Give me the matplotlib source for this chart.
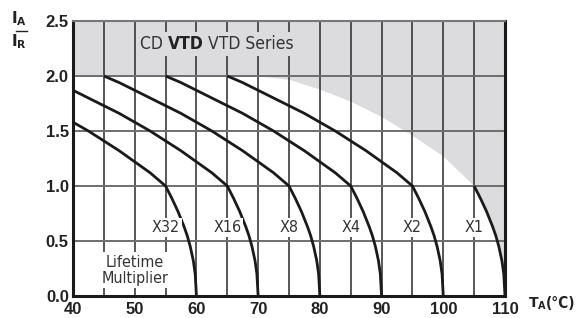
import matplotlib
matplotlib.use('Agg')
import matplotlib.pyplot as plt
from matplotlib import font_manager
from matplotlib.lines import Line2D
from matplotlib.offsetbox import TextArea, HPacker, AnnotationBbox

# end temperature of each derating curve and its lifetime multiplier
t_end = [60, 70, 80, 90, 100, 110]
mult_labels = ['X32', 'X16', 'X8', 'X4', 'X2', 'X1']

# common curve shape: offset from end temperature -> I_A/I_R
shape_dt = [-35, -32.5, -30, -27.5, -25, -22.5, -20, -17.5, -15, -12.5, -10, -7.5,
            -5, -4, -3, -2, -1.5, -1, -0.5, -0.2, 0]
shape_i = [2.0, 1.94, 1.87, 1.80, 1.73, 1.66, 1.58, 1.50, 1.41, 1.32, 1.22, 1.12,
           1.0, 0.89, 0.77, 0.63, 0.55, 0.45, 0.32, 0.2, 0.0]

# lower edge of the grey region
shade_t = [40, 70, 75, 80, 85, 90, 95, 100, 105, 106, 107, 108, 109, 109.5, 110]
shade_i = [2.0, 2.0, 1.97, 1.88, 1.77, 1.63, 1.46, 1.27, 1.0, 0.89, 0.77, 0.63, 0.45, 0.32, 0.0]

x_ticks = [40, 50, 60, 70, 80, 90, 100, 110]
y_ticks = [0.0, 0.5, 1.0, 1.5, 2.0, 2.5]

# look for a narrow font, otherwise fall back to Roboto
narrow_reg = None
narrow_bold = None
for f in font_manager.fontManager.ttflist:
    condensed = ('Narrow' in f.name or 'Condensed' in f.name
                 or str(f.stretch) in ('condensed', 'semi-condensed', 'extra-condensed'))
    if not condensed or f.style != 'normal':
        continue
    w = f.weight if isinstance(f.weight, int) else (700 if 'bold' in str(f.weight) else 400)
    if w == 400 and narrow_reg is None:
        narrow_reg = font_manager.FontProperties(fname=f.fname)
    if w >= 600 and narrow_bold is None:
        narrow_bold = font_manager.FontProperties(fname=f.fname)
if narrow_reg is None:
    narrow_reg = font_manager.FontProperties(family='Roboto')
if narrow_bold is None:
    narrow_bold = font_manager.FontProperties(family='Roboto', weight='bold')

def fp(base, size):
    p = base.copy()
    p.set_size(size)
    return p

grey = '#dcdcde'

fig = plt.figure(figsize=(5.86, 3.18), dpi=100)
ax = fig.add_axes([73/586, 22/318, 432/586, 275/318])

ax.fill_between(shade_t, shade_i, 2.5, color=grey, lw=0, zorder=0.2)

for te, lab in zip(t_end, mult_labels):
    xs = [te + d for d in shape_dt]
    ys = shape_i
    if lab == 'X1':
        # upper part of X1 is the edge of the grey region
        xs = [x for x, d in zip(xs, shape_dt) if d >= -5]
        ys = [y for y, d in zip(shape_i, shape_dt) if d >= -5]
    ax.plot(xs, ys, color='#1a1a1a', lw=2.0, zorder=3, solid_capstyle='butt')
    ax.text(te - 5, 0.62, lab, ha='center', va='center', fontproperties=fp(narrow_reg, 11.5),
            color='#333333', zorder=4,
            bbox=dict(facecolor='white', edgecolor='none', pad=1.5))

ax.text(50, 0.235, 'Lifetime\nMultiplier', ha='center', va='center',
        fontproperties=fp(narrow_reg, 11.5), color='#333333', linespacing=1.1, zorder=4,
        bbox=dict(facecolor='white', edgecolor='none', pad=1.5))

# title with bold part
parts = [TextArea('CD ', textprops=dict(fontproperties=fp(narrow_reg, 12.5), color='#333333')),
         TextArea('VTD', textprops=dict(fontproperties=fp(narrow_bold, 12.5), color='#222222')),
         TextArea(' VTD Series', textprops=dict(fontproperties=fp(narrow_reg, 12.5), color='#333333'))]
box = HPacker(children=parts, pad=0, sep=0, align='baseline')
ab = AnnotationBbox(box, (63.3, 2.29), xycoords='data', frameon=True, pad=0.2,
                    bboxprops=dict(facecolor=grey, edgecolor='none'), zorder=4)
ax.add_artist(ab)

ax.set_xlim(40, 110)
ax.set_ylim(0, 2.5)
ax.set_xticks(x_ticks)
ax.set_yticks(y_ticks)
ax.set_xticks(range(45, 110, 5), minor=True)
ax.set_xticklabels([str(v) for v in x_ticks])
ax.set_yticklabels(['%.1f' % v for v in y_ticks])
ax.tick_params(length=0, which='both', labelsize=12)
ax.tick_params(axis='x', pad=4)
ax.tick_params(axis='y', pad=3)
for lbl in ax.get_xticklabels() + ax.get_yticklabels():
    lbl.set_fontweight('bold')
    lbl.set_family('Liberation Sans')
    lbl.set_color('#222222')

ax.set_axisbelow(True)
ax.xaxis.grid(True, which='both', color='#2a2a2a', lw=1.1)
ax.yaxis.grid(True, color='#6e6e6e', lw=1.4)

for s in ['left', 'bottom', 'right']:
    ax.spines[s].set_linewidth(2.2)
    ax.spines[s].set_color('#1a1a1a')
ax.spines['top'].set_linewidth(1.5)
ax.spines['top'].set_color('#777777')

# I_A / I_R fraction
fig.text(0.033, 0.94, r'$\mathbf{I_A}$', ha='center', va='center', fontsize=11, color='#222222')
fig.add_artist(Line2D([0.028, 0.046], [0.903, 0.903], color='#222222', lw=1.0,
                      transform=fig.transFigure))
fig.text(0.033, 0.868, r'$\mathbf{I_R}$', ha='center', va='center', fontsize=11, color='#222222')

fig.text(528/586, 0.045, r'$\mathbf{T_A}$', ha='left', va='center', fontsize=10,
         color='#222222')
fig.text(546/586, 0.045, '(°C)', ha='left', va='center',
         fontproperties=fp(narrow_bold, 11), color='#222222')

fig.savefig('out.png', dpi=100)
